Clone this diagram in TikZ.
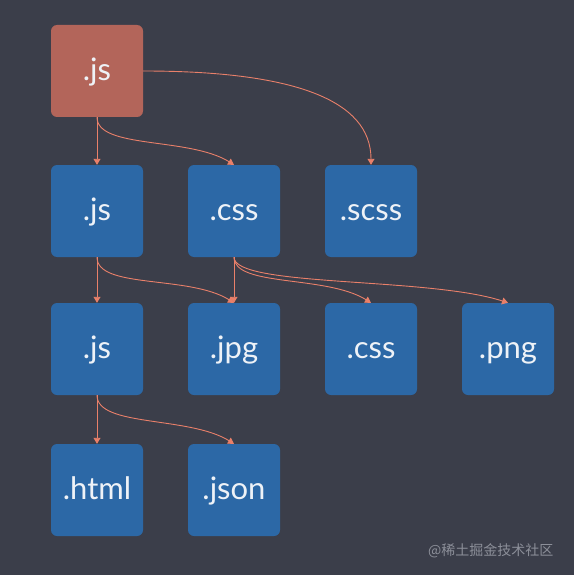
\documentclass[tikz,border=0pt]{standalone}
\usepackage{fontspec}
\setmainfont{Lato}
\newfontfamily\cjkfont{Noto Sans CJK SC}
\usetikzlibrary{arrows.meta}
\definecolor{bgdark}{HTML}{3B3E4A}
\definecolor{boxblue}{HTML}{2C68A6}
\definecolor{boxred}{HTML}{B3655A}
\definecolor{edgecol}{HTML}{E9806A}
\definecolor{boxtext}{HTML}{EEF2F7}
\definecolor{marktext}{HTML}{8C8F99}

\begin{document}
\begin{tikzpicture}[x=1pt,y=-1pt,>={Triangle[width=7pt,length=6pt]},
  file/.style={rectangle,rounded corners=6pt,minimum width=92pt,minimum height=92pt,
    inner sep=0pt,text height=23pt,text depth=4pt,fill=boxblue,text=boxtext,
    font=\fontsize{31}{36}\selectfont},
  link/.style={->,edgecol,line width=0.9pt}]
  \fill[bgdark] (0,0) rectangle (574,575);
  \useasboundingbox (0,0) rectangle (574,575);
  % entry
  \node[file,fill=boxred] (entry) at (97,71) {.js};
  % second row
  \node[file] (js1) at (97,211) {.js};
  \node[file] (css1) at (234,211) {.css};
  \node[file] (scss) at (371,211) {.scss};
  % third row
  \node[file] (js2) at (97,349) {.js};
  \node[file] (jpg) at (234,349) {.jpg};
  \node[file] (css2) at (371,349) {.css};
  \node[file] (png) at (508,349) {.png};
  % last row
  \node[file] (html) at (97,490) {.html};
  \node[file] (json) at (234,490) {.json};
  \draw[link] (entry.south) -- (js1.north);
  \draw[link] (entry.south) .. controls +(0,32) and +(-45,-28) .. (css1.north);
  \draw[link] (entry.east) .. controls +(150,0) and +(0,-65) .. (scss.north);
  \draw[link] (js1.south) -- (js2.north);
  \draw[link] (js1.south) .. controls +(0,32) and +(-45,-28) .. (jpg.north);
  \draw[link] (css1.south) -- (jpg.north);
  \draw[link] (css1.south) .. controls +(0,30) and +(-45,-28) .. (css2.north);
  \draw[link] (css1.south) .. controls +(0,30) and +(-80,-26) .. (png.north);
  \draw[link] (js2.south) -- (html.north);
  \draw[link] (js2.south) .. controls +(0,32) and +(-45,-28) .. (json.north);
  \node[text=marktext,font=\cjkfont\fontsize{14}{16}\selectfont,anchor=east] (mark) at (557,551) {@稀土掘金技术社区};
\end{tikzpicture}
\end{document}
